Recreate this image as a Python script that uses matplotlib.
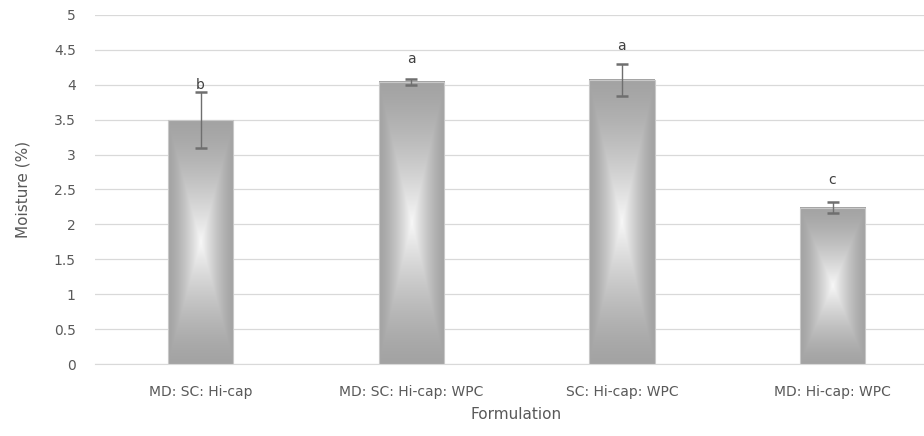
import matplotlib

matplotlib.use("Agg")
import matplotlib.pyplot as plt
import numpy as np

formulations = ["MD: SC: Hi-cap", "MD: SC: Hi-cap: WPC", "SC: Hi-cap: WPC", "MD: Hi-cap: WPC"]
moisture = [3.49, 4.04, 4.07, 2.24]
moisture_sd = [0.40, 0.04, 0.23, 0.08]
letters = ["b", "a", "a", "c"]
letter_y = [4.0, 4.37, 4.56, 2.63]

TEXT = "#595959"
GRID = "#d9d9d9"


def gradient_img(n=200):
    # rectangular path gradient: light centre, grey edges
    yy, xx = np.mgrid[-1:1:n * 1j, -1:1:n * 1j]
    t = np.maximum(np.abs(xx), np.abs(yy))
    g = 0.64 + (0.97 - 0.64) * (1 - t) ** 1.4
    return np.dstack([g, g, g])


fig = plt.figure(figsize=(9.24, 4.36), dpi=100)
ax = fig.add_axes([0.103, 0.165, 0.912, 0.801])

x = np.arange(len(formulations))
bars = ax.bar(x, moisture, width=0.31, color="none", edgecolor="#c8c8c8", linewidth=0.8, zorder=3)
img = gradient_img()
for b in bars:
    x0, y0 = b.get_x(), b.get_y()
    ax.imshow(img, extent=(x0, x0 + b.get_width(), y0, y0 + b.get_height()),
              aspect="auto", zorder=2, interpolation="bilinear")

ax.errorbar(x, moisture, yerr=moisture_sd, fmt="none", ecolor="#6f6f6f",
            elinewidth=1.0, capsize=4, capthick=1.8, zorder=4)
for xi, lab, ly in zip(x, letters, letter_y):
    ax.text(xi, ly, lab, ha="center", va="center", fontsize=10, color="#404040", zorder=5)

ax.set_xlim(-0.5, len(formulations) - 0.5)
ax.set_ylim(0, 5)
ax.set_yticks(np.arange(0, 5.01, 0.5))
ax.set_yticklabels([f"{v:g}" for v in np.arange(0, 5.01, 0.5)])
ax.set_xticks(x)
ax.set_xticklabels(formulations)
ax.grid(axis="y", color=GRID, linewidth=0.9, zorder=0)
ax.set_axisbelow(True)
for s in ("top", "right", "left"):
    ax.spines[s].set_visible(False)
ax.spines["bottom"].set_color(GRID)
ax.tick_params(axis="both", length=0, colors=TEXT, labelsize=10)
ax.tick_params(axis="y", pad=14)
ax.tick_params(axis="x", pad=15)
ax.set_xlabel("Formulation", color=TEXT, fontsize=11, labelpad=6)
ax.set_ylabel("Moisture (%)", color=TEXT, fontsize=11, labelpad=17)

fig.savefig("out.png", dpi=100)
